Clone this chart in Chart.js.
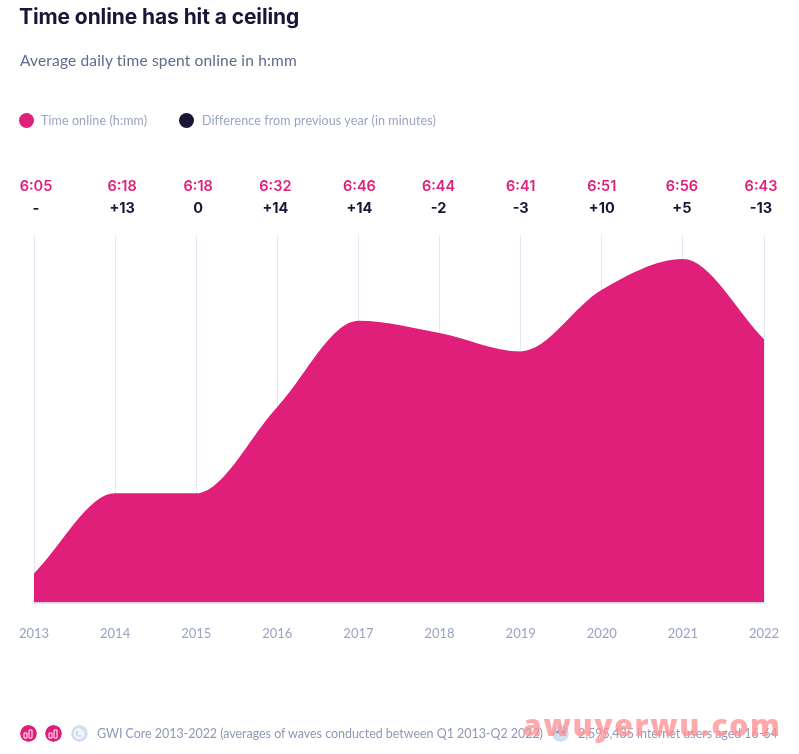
<!DOCTYPE html>
<html>
<head>
<meta charset="utf-8">
<script src="https://cdn.jsdelivr.net/npm/chart.js@4"></script>
<style>
  html, body { margin: 0; padding: 0; background: #fff; }
  body { position: relative; width: 799px; height: 754px; overflow: hidden; font-family: Lato, sans-serif; }
  canvas { position: absolute; left: 0; top: 0; }
  .txt { position: absolute; white-space: nowrap; }
  #title { left: 19px; top: 4px; font: 700 21px Inter, sans-serif; color: #1a1637; letter-spacing: -0.1px; }
  #subtitle { left: 20px; top: 51px; font-size: 15.5px; color: #5e6a8c; letter-spacing: 0.17px; }
  .leg { top: 113px; font-size: 12.5px; color: #9aa3c0; letter-spacing: 0.1px; }
  .dot { position: absolute; top: 113px; width: 15px; height: 15px; border-radius: 50%; }
  .foot { top: 726px; font-size: 12.5px; color: #8f99b8; }
  .ico { position: absolute; top: 725px; width: 17px; height: 17px; border-radius: 50%; }
  #mark { position: absolute; left: 523px; top: 704px; font: 800 30px "Open Sans", sans-serif; color: rgba(255,140,145,0.75); letter-spacing: 1.7px; }
</style>
</head>
<body>
<canvas id="timeChart" width="799" height="754"></canvas>
<div class="txt" id="title">Time online has hit a ceiling</div>
<div class="txt" id="subtitle">Average daily time spent online in h:mm</div>
<span class="dot" style="left:19px;background:#e01f7a"></span>
<div class="txt leg" style="left:41px">Time online (h:mm)</div>
<span class="dot" style="left:179px;background:#1a1637"></span>
<div class="txt leg" style="left:202px">Difference from previous year (in minutes)</div>
<svg class="ico" style="left:20px" viewBox="0 0 17 17"><circle cx="8.5" cy="8.5" r="8.5" fill="#e01f7a"/><path d="M4 8h3v5H4zM9 5h3v8H9z" fill="none" stroke="#fff"/></svg>
<svg class="ico" style="left:45px" viewBox="0 0 17 17"><circle cx="8.5" cy="8.5" r="8.5" fill="#e01f7a"/><path d="M4 8h3v5H4zM9 5h3v8H9z" fill="none" stroke="#fff"/></svg>
<svg class="ico" style="left:71px" viewBox="0 0 17 17"><circle cx="8.5" cy="8.5" r="8.5" fill="#d3deef"/><path d="M8 4a4.5 4.5 0 1 0 4.5 5H8zM10 4v3h3" fill="none" stroke="#fff" stroke-width="1.3"/></svg>
<div class="txt foot" style="left:97px;letter-spacing:-0.04px">GWI Core 2013-2022 (averages of waves conducted between Q1 2013-Q2 2022)</div>
<svg class="ico" style="left:552px" viewBox="0 0 17 17"><circle cx="8.5" cy="8.5" r="8.5" fill="#d3deef"/><circle cx="5.5" cy="7" r="1.6" fill="#8f99b8"/><circle cx="11.5" cy="7" r="1.6" fill="#8f99b8"/></svg>
<div class="txt foot" style="left:578px;letter-spacing:-0.05px">2,595,435 internet users aged 16-64</div>
<div id="mark">awuyerwu.com</div>
<script>
const years = ["2013", "2014", "2015", "2016", "2017", "2018", "2019", "2020", "2021", "2022"];
const minutesOnline = [365, 378, 378, 392, 406, 404, 401, 411, 416, 403];
const timeLabels = ["6:05", "6:18", "6:18", "6:32", "6:46", "6:44", "6:41", "6:51", "6:56", "6:43"];
const diffLabels = ["-", "+13", "0", "+14", "+14", "-2", "-3", "+10", "+5", "-13"];

// the header labels in the original don't sit exactly over the gridlines
const labelNudge = [2, 7, 2, -2, 1, -1, 0, 0, -1, -3];

const topLabels = {
  id: "topLabels",
  afterDraw(chart) {
    const ctx = chart.ctx;
    const x = chart.scales.x;
    ctx.save();
    ctx.textAlign = "center";
    ctx.textBaseline = "middle";
    years.forEach((y, i) => {
      const px = x.getPixelForValue(i) + labelNudge[i];
      ctx.font = "600 14.5px Inter, sans-serif";
      ctx.fillStyle = "#e01f7a";
      ctx.fillText(timeLabels[i], px, 187);
      ctx.font = "700 14.5px Inter, sans-serif";
      ctx.fillStyle = "#1a1637";
      ctx.fillText(diffLabels[i], px, 209);
    });
    ctx.restore();
  }
};

new Chart(document.getElementById("timeChart"), {
  type: "line",
  data: {
    labels: years,
    datasets: [{
      label: "Time online (h:mm)",
      data: minutesOnline,
      borderWidth: 0,
      backgroundColor: "#e01f7a",
      fill: "start",
      pointRadius: 0,
      cubicInterpolationMode: "monotone"
    }]
  },
  options: {
    responsive: false,
    animation: false,
    layout: { padding: { left: 34, right: 35, top: 235, bottom: 108 } },
    plugins: { legend: { display: false }, tooltip: { enabled: false } },
    scales: {
      x: {
        offset: false,
        // invisible tick marks give the gap under the axis without widening the side padding
        grid: { color: "#e3e9f4", lineWidth: 1, drawTicks: true, tickColor: "transparent", tickLength: 20 },
        border: { color: "#dfe6f3", width: 3 },
        ticks: {
          color: "#9aa3c0", padding: 4, maxRotation: 0, autoSkip: false,
          font: { family: "Lato, sans-serif", size: 13 }
        }
      },
      y: {
        display: false,
        min: 360.3,
        max: 419.9
      }
    }
  },
  plugins: [topLabels]
});
</script>
</body>
</html>
